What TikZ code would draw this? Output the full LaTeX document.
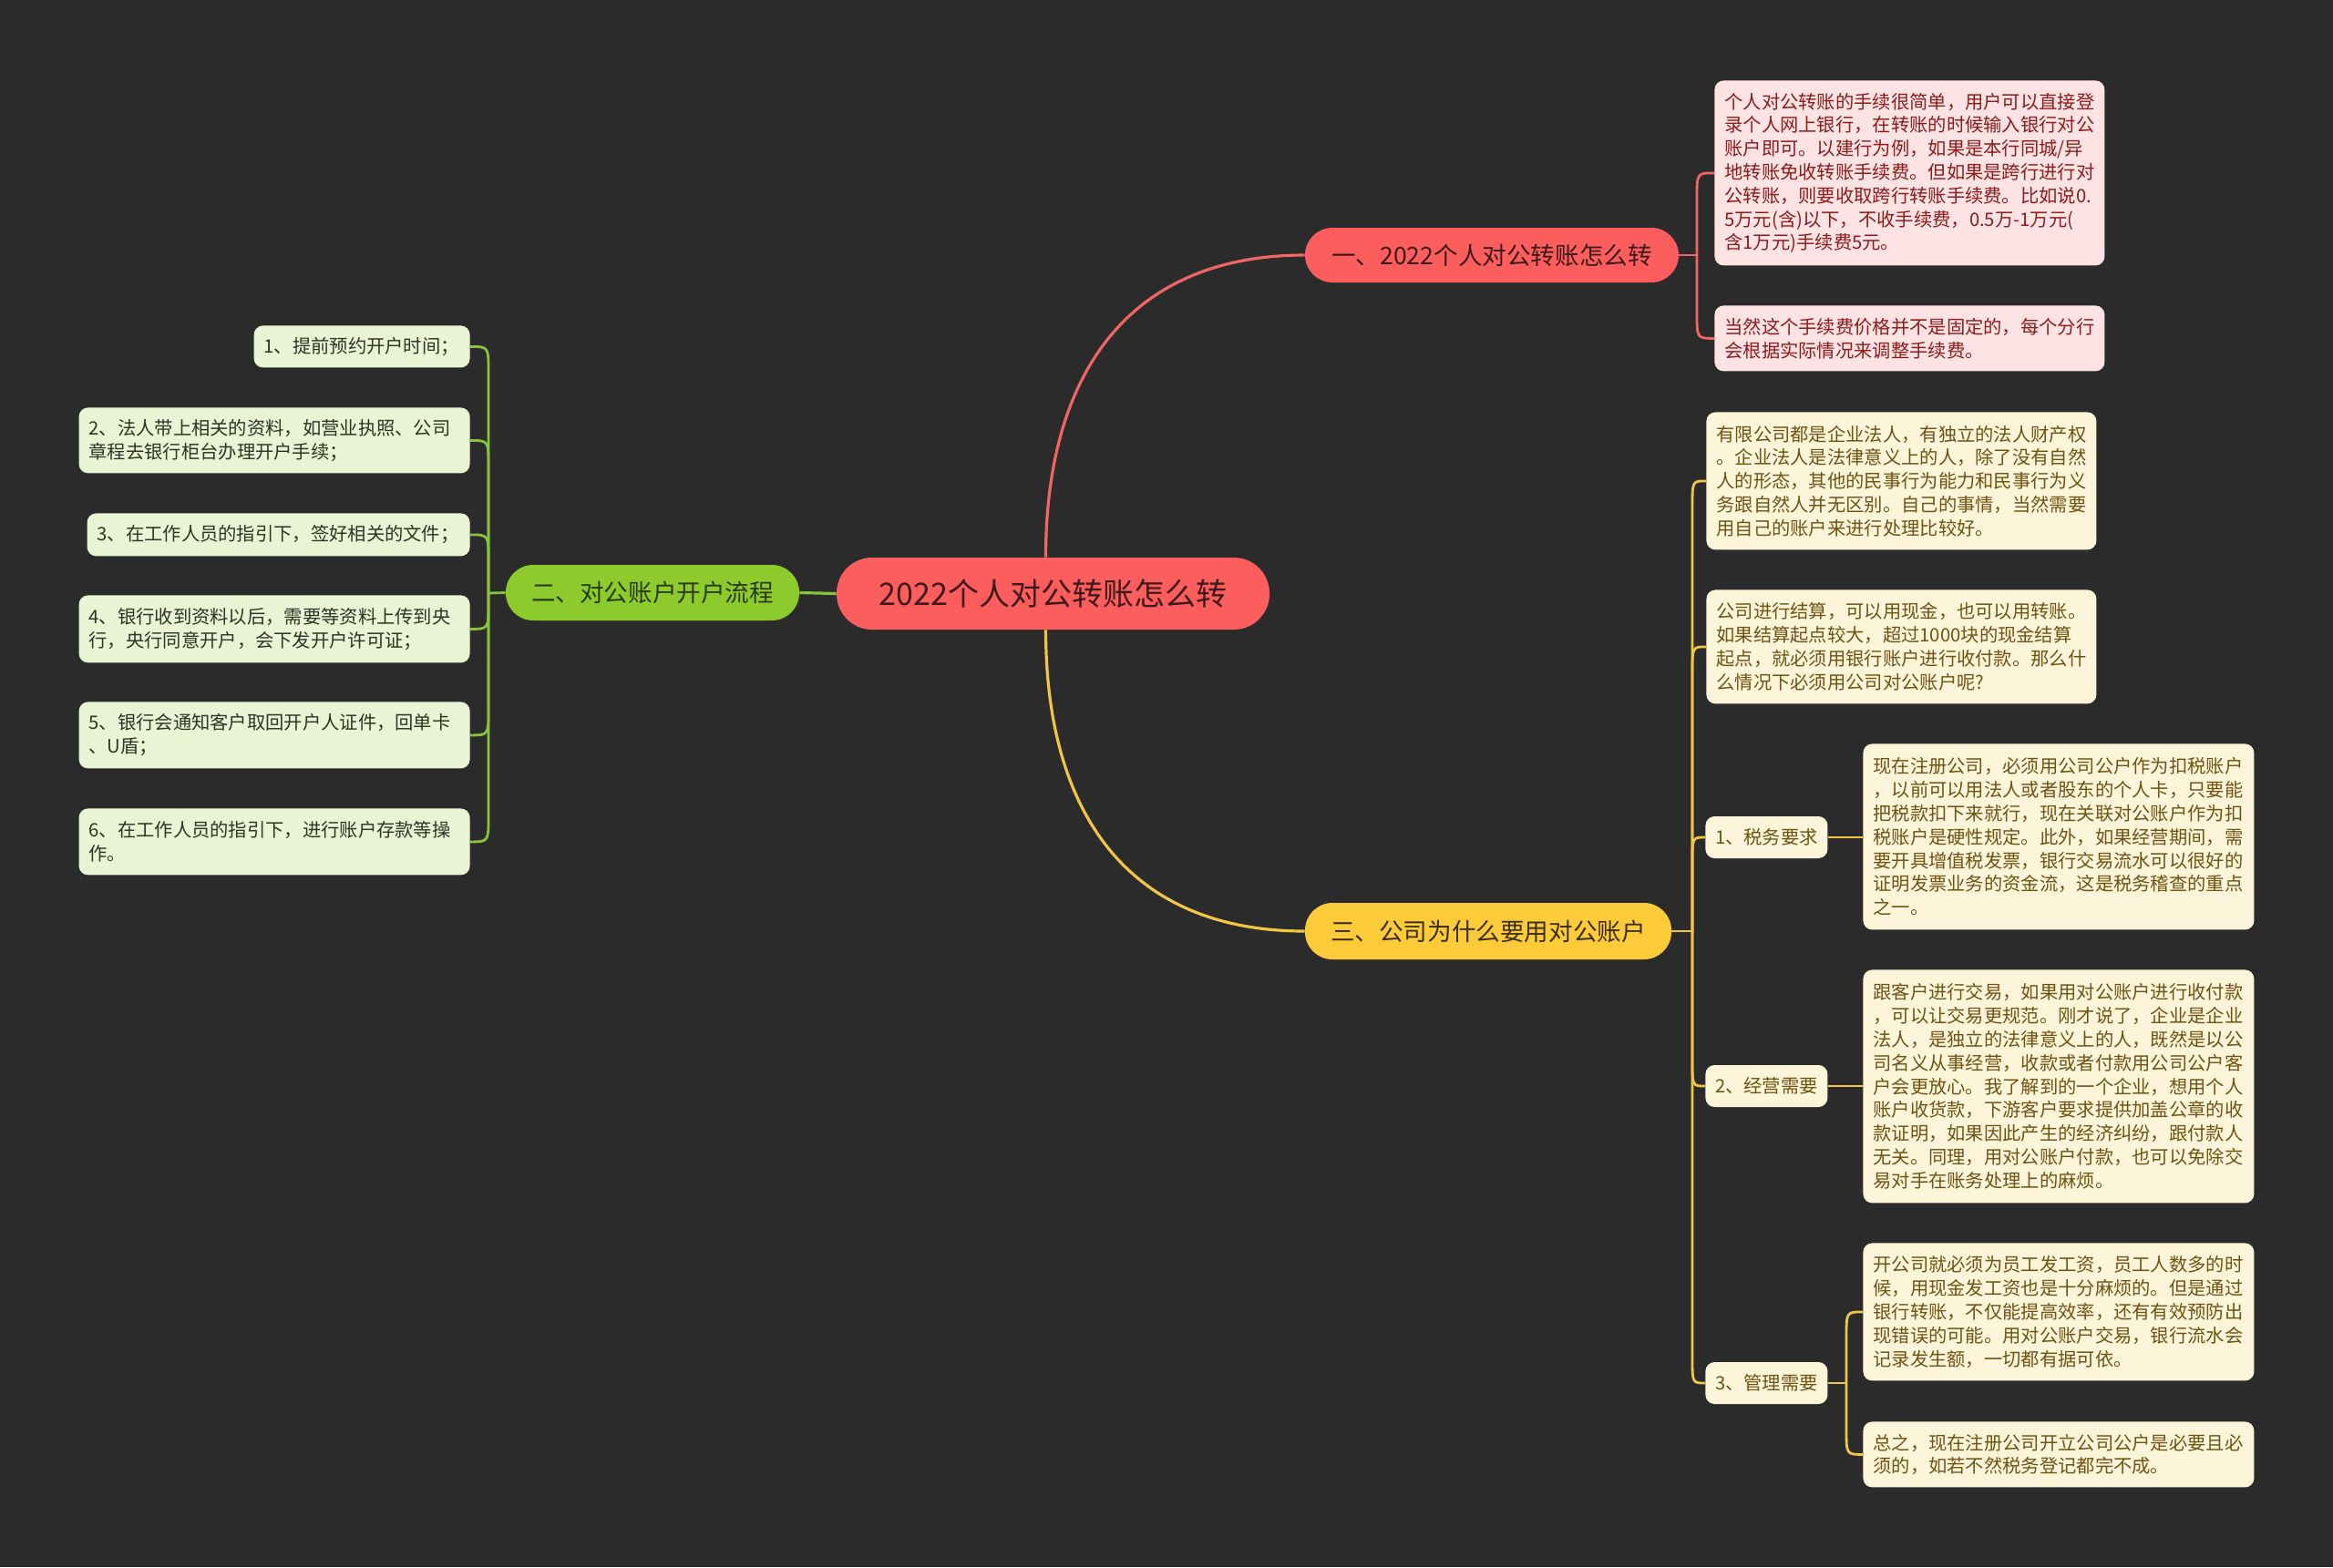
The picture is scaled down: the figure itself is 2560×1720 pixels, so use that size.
\documentclass[tikz,border=0pt]{standalone}
\usepackage{fontspec}
\setmainfont{Noto Sans CJK SC}
\definecolor{bg}{HTML}{2B2B2B}
\definecolor{redN}{HTML}{FC5D5D}
\definecolor{redL}{HTML}{F06666}
\definecolor{redT}{HTML}{3E1A1A}
\definecolor{pinkF}{HTML}{FDE3E3}
\definecolor{pinkT}{HTML}{8E1B1B}
\definecolor{greenN}{HTML}{8CCB2B}
\definecolor{greenL}{HTML}{86C43A}
\definecolor{greenF}{HTML}{E8F4D4}
\definecolor{greenT}{HTML}{2E3326}
\definecolor{greenNT}{HTML}{2A3A10}
\definecolor{yelN}{HTML}{FCCB3A}
\definecolor{yelL}{HTML}{F2C645}
\definecolor{yelT}{HTML}{3D2E0A}
\definecolor{creamF}{HTML}{FDF5DA}
\definecolor{creamT}{HTML}{6E5312}
\newcommand\mmlink[4]{\draw[#1] (#2) -- ([yshift=#4]#2 |- #3) .. controls (#2 |- #3) .. (#3);}
\begin{document}
\begin{tikzpicture}[x=0.5pt,y=-0.5pt,
  leaf/.style={rounded corners=5pt, anchor=north west, align=left, inner xsep=5.5pt, inner ysep=0pt,
    font=\fontsize{10.15}{12.9}\selectfont},
  pinkleaf/.style={leaf, fill=pinkF, text=pinkT},
  creamleaf/.style={leaf, fill=creamF, text=creamT},
  greenleaf/.style={leaf, anchor=north east, fill=greenF, text=greenT},
  subnode/.style={rounded corners=5pt, anchor=west, fill=creamF, text=creamT, minimum width=67pt,
    minimum height=23pt, inner sep=0pt, font=\fontsize{10.15}{12.9}\selectfont},
  branch/.style={rounded corners=15pt, inner sep=0pt, font=\fontsize{13.3}{16}\selectfont},
  redline/.style={draw=redL, line width=1.4pt},
  yelline/.style={draw=yelL, line width=1.4pt},
  grnline/.style={draw=greenL, line width=1.4pt},
  mainline/.style={line width=1.6pt}
]
\fill[bg] (0,0) rectangle (2560,1720);

% central and main branches
\node[fill=redN, text=redT, rounded corners=19.5pt, minimum width=237.5pt, minimum height=39.5pt,
  inner sep=0pt, font=\fontsize{17}{20}\selectfont] (c) at (1155.5,651.5) {2022个人对公转账怎么转};
\node[branch, fill=redN, text=redT, minimum width=205pt, minimum height=30pt] (b1) at (1637,280) {一、2022个人对公转账怎么转};
\node[branch, fill=greenN, text=greenNT, minimum width=161pt, minimum height=30.5pt] (b2) at (716,650.5) {二、对公账户开户流程};
\node[branch, fill=yelN, text=yelT, minimum width=201pt, minimum height=31pt] (b3) at (1633,1022) {三、公司为什么要用对公账户};

\draw[redL, mainline] ([xshift=-4pt]c.north) .. controls +(0,-204) and +(-191,0) .. (b1.west);
\draw[yelL, mainline] ([xshift=-4pt]c.south) .. controls +(0,204) and +(-191,0) .. (b3.west);
\draw[greenL, mainline] (c.west) -- (b2.east);

% branch 1 leaves
\node[pinkleaf, text width=203pt, minimum height=101.5pt] (p1) at (1881,88) {个人对公转账的手续很简单，用户可以直接登\\录个人网上银行，在转账的时候输入银行对公\\账户即可。以建行为例，如果是本行同城/异\\地转账免收转账手续费。但如果是跨行进行对\\公转账，则要收取跨行转账手续费。比如说0.\\5万元(含)以下，不收手续费，0.5万-1万元(\\含1万元)手续费5元。};
\node[pinkleaf, text width=203pt, minimum height=36pt] (p2) at (1881,335) {当然这个手续费价格并不是固定的，每个分行\\会根据实际情况来调整手续费。};
\coordinate (r0) at (1862,280);
\draw[redline] (b1.east) -- (r0);
\mmlink{redline}{r0}{p1.west}{-14pt}
\mmlink{redline}{r0}{p2.west}{14pt}

% branch 2 leaves
\node[greenleaf, text width=107.5pt, minimum height=23pt] (g1) at (516,357) {1、提前预约开户时间；};
\node[greenleaf, text width=203.5pt, minimum height=36pt] (g2) at (516,447) {2、法人带上相关的资料，如营业执照、公司\\章程去银行柜台办理开户手续；};
\node[greenleaf, text width=199pt, minimum height=23.5pt] (g3) at (516,563) {3、在工作人员的指引下，签好相关的文件；};
\node[greenleaf, text width=203.5pt, minimum height=37pt] (g4) at (516,653) {4、银行收到资料以后，需要等资料上传到央\\行，央行同意开户，会下发开户许可证；};
\node[greenleaf, text width=203.5pt, minimum height=36.5pt] (g5) at (516,770) {5、银行会通知客户取回开户人证件，回单卡\\、U盾；};
\node[greenleaf, text width=203.5pt, minimum height=36.5pt] (g6) at (516,887) {6、在工作人员的指引下，进行账户存款等操\\作。};
\coordinate (gj) at (536,651);
\draw[grnline] (b2.west) -- (gj);
\mmlink{grnline}{gj}{g1.east}{-14pt}
\mmlink{grnline}{gj}{g2.east}{-14pt}
\mmlink{grnline}{gj}{g3.east}{-14pt}
\mmlink{grnline}{gj}{g4.east}{14pt}
\mmlink{grnline}{gj}{g5.east}{14pt}
\mmlink{grnline}{gj}{g6.east}{14pt}

% branch 3 leaves
\node[creamleaf, text width=203pt, minimum height=75.5pt] (y1) at (1872,452) {有限公司都是企业法人，有独立的法人财产权\\。企业法人是法律意义上的人，除了没有自然\\人的形态，其他的民事行为能力和民事行为义\\务跟自然人并无区别。自己的事情，当然需要\\用自己的账户来进行处理比较好。};
\node[creamleaf, text width=203pt, minimum height=62.5pt] (y2) at (1872,647) {公司进行结算，可以用现金，也可以用转账。\\如果结算起点较大，超过1000块的现金结算\\起点，就必须用银行账户进行收付款。那么什\\么情况下必须用公司对公账户呢?};
\node[subnode] (s1) at (1871,919) {1、税务要求};
\node[subnode] (s2) at (1871,1192) {2、经营需要};
\node[subnode] (s3) at (1871,1518) {3、管理需要};
\coordinate (yj) at (1857,1022);
\draw[yelline] (b3.east) -- (yj);
\mmlink{yelline}{yj}{y1.west}{-14pt}
\mmlink{yelline}{yj}{y2.west}{-14pt}
\mmlink{yelline}{yj}{s1.west}{-14pt}
\mmlink{yelline}{yj}{s2.west}{14pt}
\mmlink{yelline}{yj}{s3.west}{14pt}

\node[creamleaf, text width=203.5pt, minimum height=102pt] (t1) at (2044,816) {现在注册公司，必须用公司公户作为扣税账户\\，以前可以用法人或者股东的个人卡，只要能\\把税款扣下来就行，现在关联对公账户作为扣\\税账户是硬性规定。此外，如果经营期间，需\\要开具增值税发票，银行交易流水可以很好的\\证明发票业务的资金流，这是税务稽查的重点\\之一。};
\node[creamleaf, text width=203.5pt, minimum height=128pt] (t2) at (2044,1064) {跟客户进行交易，如果用对公账户进行收付款\\，可以让交易更规范。刚才说了，企业是企业\\法人，是独立的法律意义上的人，既然是以公\\司名义从事经营，收款或者付款用公司公户客\\户会更放心。我了解到的一个企业，想用个人\\账户收货款，下游客户要求提供加盖公章的收\\款证明，如果因此产生的经济纠纷，跟付款人\\无关。同理，用对公账户付款，也可以免除交\\易对手在账务处理上的麻烦。};
\node[creamleaf, text width=203.5pt, minimum height=75.5pt] (t3) at (2044,1364) {开公司就必须为员工发工资，员工人数多的时\\候，用现金发工资也是十分麻烦的。但是通过\\银行转账，不仅能提高效率，还有有效预防出\\现错误的可能。用对公账户交易，银行流水会\\记录发生额，一切都有据可依。};
\node[creamleaf, text width=203.5pt, minimum height=36pt] (t4) at (2044,1560) {总之，现在注册公司开立公司公户是必要且必\\须的，如若不然税务登记都完不成。};

\draw[yelline] (s1.east) -- (s1.east -| t1.west);
\draw[yelline] (s2.east) -- (s2.east -| t2.west);
\coordinate (sj) at (2026,1518);
\draw[yelline] (s3.east) -- (sj);
\mmlink{yelline}{sj}{t3.west}{-14pt}
\mmlink{yelline}{sj}{t4.west}{14pt}
\end{tikzpicture}
\end{document}
